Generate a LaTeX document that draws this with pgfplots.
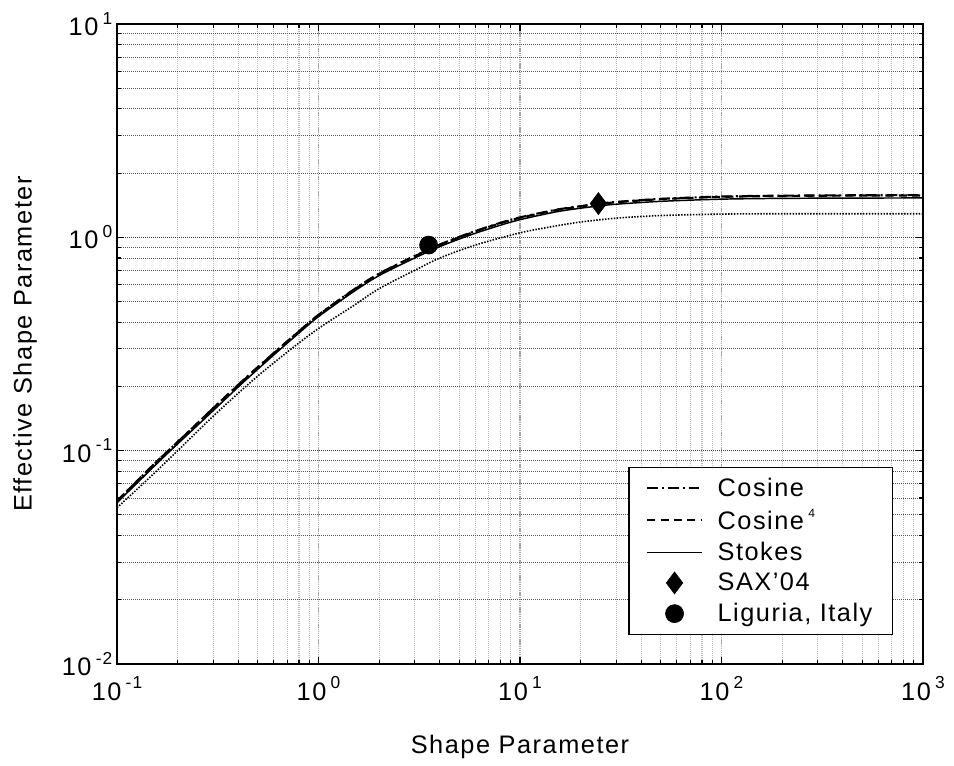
\documentclass[border=0pt]{standalone}
\usepackage{fontspec}
\setmainfont{Liberation Sans}[LetterSpace=6]
\usepackage{pgfplots}
\pgfplotsset{compat=1.18}

% 10 with a small raised exponent, as in the original
\newcommand{\tp}[1]{10\,\raisebox{0.85ex}{\fontsize{13}{13}\selectfont #1}}

\pgfplotsset{
  lleg/.style={legend image code/.code={\draw[##1] (0pt,0pt) -- (41pt,0pt);}},
  mleg/.style={legend image code/.code={\draw[mark repeat=2,mark phase=2,##1] plot coordinates {(0pt,0pt)(20.5pt,0pt)(41pt,0pt)};}},
}

\begin{document}
\begin{tikzpicture}[font=\fontsize{19}{22}\selectfont]
\useasboundingbox (-87.75pt,-75.75pt) rectangle (627.75pt,498pt);
\begin{axis}[
    at={(0pt,0pt)}, anchor=south west,
    width=604.5pt, height=480pt, scale only axis,
    xmode=log, ymode=log,
    xmin=0.1, xmax=1000, ymin=0.01, ymax=10,
    xtick={0.1,1,10,100,1000},
    xticklabels={\tp{-1},\tp{0},\tp{1},\tp{2},\tp{3}},
    xticklabel style={yshift=-6pt},
    ytick={0.01,0.1,1,10},
    yticklabels={\tp{-2},\tp{-1},\tp{0},\tp{1}},
    minor xtick={0.2,0.3,0.4,0.5,0.6,0.7,0.8,0.9,2,3,4,5,6,7,8,9,20,30,40,50,60,70,80,90,200,300,400,500,600,700,800,900},
    minor ytick={0.02,0.03,0.04,0.05,0.06,0.07,0.08,0.09,0.2,0.3,0.4,0.5,0.6,0.7,0.8,0.9,2,3,4,5,6,7,8,9},
    xmajorgrids, xminorgrids, ymajorgrids, yminorgrids,
    major x grid style={gray!70, line width=1pt, dash pattern=on 1pt off 0.6pt},
    minor x grid style={gray!55, line width=0.8pt, dash pattern=on 0.75pt off 0.75pt},
    major y grid style={black!75, line width=0.8pt, dash pattern=on 0.75pt off 0.75pt},
    minor y grid style={black!65, line width=0.75pt, dash pattern=on 0.75pt off 0.75pt},
    axis line style={line width=1.3pt},
    major tick length=5pt, minor tick length=3pt,
    every tick/.style={black, line width=0.8pt},
    xlabel={Shape Parameter},
    xlabel style={at={(axis description cs:0.5,-0.1297)}, anchor=center},
    ylabel={Effective Shape Parameter},
    ylabel style={at={(axis description cs:-0.1141,0.5)}, anchor=center},
    legend style={at={(axis description cs:0.963,0.045)}, anchor=south east,
        draw=black, line width=1.1pt, fill=white, row sep=4pt, column sep=9pt,
        inner xsep=13pt, inner ysep=6pt},
    legend cell align=left,
]
% Cosine
\addplot[black, line width=1.6pt, dash pattern=on 8pt off 3pt on 1.5pt off 3pt, smooth, lleg] coordinates {
  (0.1,0.058) (0.15,0.085) (0.18,0.100) (0.25,0.134) (0.3,0.158) (0.43,0.217)
  (0.6,0.287) (0.8,0.363) (1,0.433) (1.5,0.570) (2,0.676) (3,0.818) (4,0.925)
  (5,1.005) (6,1.07) (8,1.17) (10,1.24) (15,1.345) (20,1.40) (25,1.44) (30,1.465)
  (50,1.515) (100,1.553) (200,1.568) (500,1.575) (1000,1.577)};
\addlegendentry{Cosine}
% Cosine^4
\addplot[black, line width=1.6pt, dash pattern=on 6pt off 4pt, smooth, lleg] coordinates {
  (0.1,0.058) (0.15,0.085) (0.18,0.100) (0.25,0.134) (0.3,0.158) (0.43,0.216)
  (0.6,0.286) (0.8,0.362) (1,0.432) (1.5,0.568) (2,0.674) (3,0.815) (4,0.922)
  (5,1.0) (6,1.066) (8,1.165) (10,1.235) (15,1.34) (20,1.395) (25,1.435) (30,1.46)
  (50,1.51) (100,1.548) (200,1.563) (500,1.57) (1000,1.572)};
\addlegendentry{Cosine\,\raisebox{0.9ex}{\fontsize{9}{9}\selectfont 4}}
% Stokes
\addplot[black, line width=1.1pt, smooth, lleg] coordinates {
  (0.1,0.057) (0.15,0.083) (0.18,0.098) (0.25,0.131) (0.3,0.154) (0.43,0.212)
  (0.6,0.281) (0.8,0.356) (1,0.425) (1.5,0.558) (2,0.662) (3,0.80) (4,0.905)
  (5,0.982) (6,1.045) (8,1.14) (10,1.21) (15,1.315) (20,1.37) (25,1.405) (30,1.43)
  (50,1.475) (100,1.51) (200,1.523) (500,1.528) (1000,1.53)};
\addlegendentry{Stokes}
% unlabelled dotted curve
\addplot[black, line width=1.2pt, dash pattern=on 1.1pt off 1.1pt, smooth, forget plot] coordinates {
  (0.1,0.054) (0.15,0.077) (0.2,0.100) (0.3,0.145) (0.47,0.213) (0.7,0.290)
  (1,0.374) (1.5,0.48) (2,0.575) (3,0.70) (4,0.80) (6,0.92) (10,1.05)
  (15,1.13) (20,1.18) (30,1.23) (50,1.265) (100,1.285) (200,1.29) (1000,1.29)};
\addplot[only marks, mark=diamond*, mark size=8.2pt, black, fill=black, line width=0.5pt, mleg] coordinates {(24.5,1.44)};
\addlegendentry{SAX'04}
\addplot[only marks, mark=*, mark size=6.75pt, black, fill=black, line width=0.5pt, mleg] coordinates {(3.52,0.92)};
\addlegendentry{Liguria, Italy}
\end{axis}
\end{tikzpicture}
\end{document}
